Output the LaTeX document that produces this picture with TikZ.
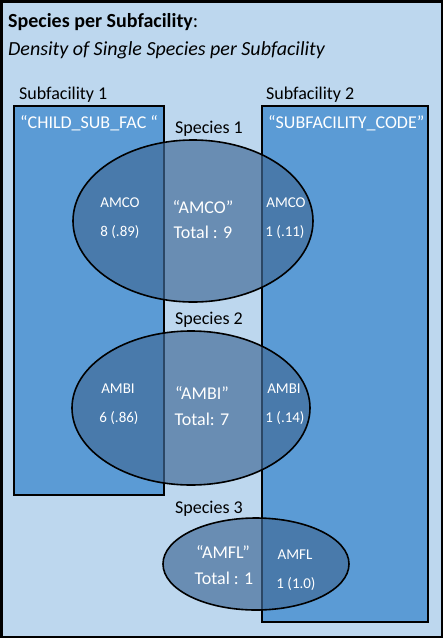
\documentclass[tikz,border=0pt]{standalone}
\usepackage{fontspec}
\setmainfont{Carlito}
\usetikzlibrary{shapes.geometric}

\definecolor{paleblue}{RGB}{189,215,238}
\definecolor{facblue}{RGB}{91,155,213}
\definecolor{spblue}{RGB}{65,106,151}

\tikzset{
    facbox/.style={draw=black, line width=2.2pt, fill=facblue},
    spblob/.style={ellipse, draw=black, line width=1.6pt, fill=spblue, fill opacity=0.67, draw opacity=1, text opacity=1, inner sep=0pt},
    txt/.style={inner sep=0pt, anchor=base, font=\fontsize{18}{20}\selectfont},
    smalltxt/.style={inner sep=0pt, anchor=base, text=white, font=\fontsize{15}{17}\selectfont},
    bigtxt/.style={txt, text=white}
}

\begin{document}
\begin{tikzpicture}[x=1pt, y=-1pt]
        \useasboundingbox (0, 0) rectangle (443, 638);
        \draw[line width=2.5pt, fill=paleblue] (1.25, 1.25) rectangle (441.75, 636.75);
        \draw[facbox] (14, 106) rectangle (164, 495);
        \draw[facbox] (262, 106) rectangle (428, 622);
        \node[spblob, minimum width=240pt, minimum height=162pt] (sp1) at (193, 221) {};
        \node[spblob, minimum width=238pt, minimum height=154pt] (sp2) at (191, 408) {};
        \node[spblob, minimum width=186pt, minimum height=92pt] (sp3) at (256, 564) {};
        \node[txt, anchor=base west, font=\fontsize{20}{22}\selectfont] (title) at (8, 27) {\textbf{Species per Subfacility}:};
        \node[txt, anchor=base west, font=\fontsize{20}{22}\selectfont\itshape] (subtitle) at (8, 55) {Density of Single Species per Subfacility};
        \node[txt, anchor=base west] (fac1) at (19, 99) {Subfacility 1};
        \node[txt, anchor=base west] (fac2) at (266, 99) {Subfacility 2};
        \node[bigtxt, anchor=base west] (code1) at (20, 128) {“CHILD\_SUB\_FAC “};
        \node[bigtxt, anchor=base west] (code2) at (268, 128) {“SUBFACILITY\_CODE”};
        \node[txt] (lab1) at (209, 133) {Species 1};
        \node[txt] (lab2) at (209, 324) {Species 2};
        \node[txt] (lab3) at (209, 513) {Species 3};
        \node[smalltxt] (amco1) at (120, 207) {AMCO};
        \node[smalltxt] (amcon1) at (120, 236) {8 (.89)};
        \node[bigtxt] (amco) at (203, 213) {“AMCO”};
        \node[bigtxt] (amcot) at (203, 238) {Total : 9};
        \node[smalltxt] (amco2) at (286, 207) {AMCO};
        \node[smalltxt] (amcon2) at (285, 236) {1 (.11)};
        \node[smalltxt] (ambi1) at (118, 393) {AMBI};
        \node[smalltxt] (ambin1) at (119, 422) {6 (.86)};
        \node[bigtxt] (ambi) at (202, 399) {“AMBI”};
        \node[bigtxt] (ambit) at (202, 425) {Total: 7};
        \node[smalltxt] (ambi2) at (284, 393) {AMBI};
        \node[smalltxt] (ambin2) at (285, 422) {1 (.14)};
        \node[bigtxt] (amfl) at (223, 558) {“AMFL”};
        \node[bigtxt] (amflt) at (224, 584) {Total : 1};
        \node[smalltxt] (amfl2) at (295, 559) {AMFL};
        \node[smalltxt] (amfln2) at (296, 588) {1 (1.0)};
    \end{tikzpicture}
\end{document}
